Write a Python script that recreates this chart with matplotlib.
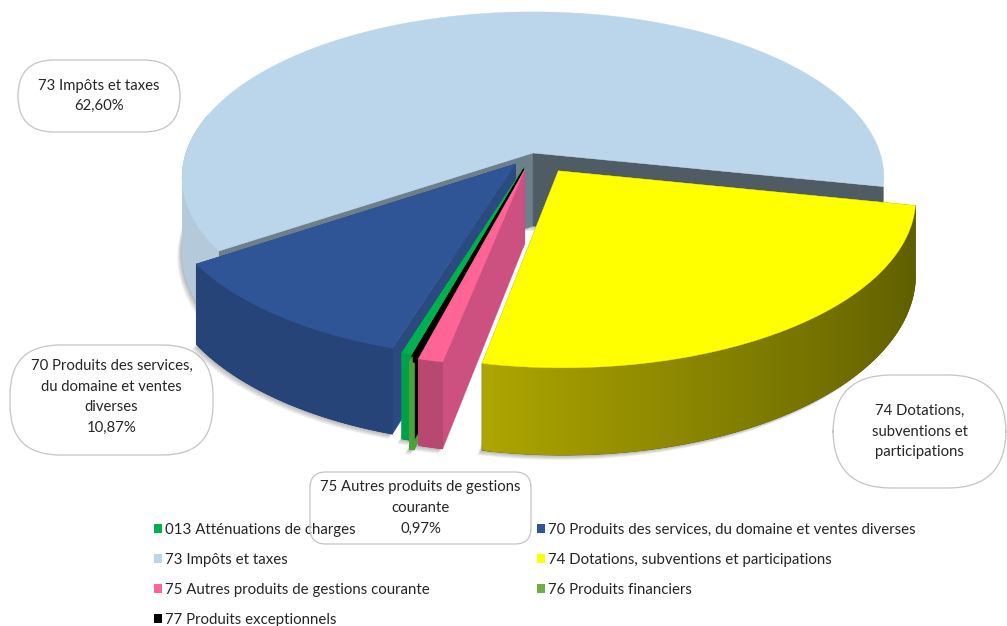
import numpy as np
import matplotlib
matplotlib.use("Agg")
import matplotlib.pyplot as plt
from matplotlib.colors import to_rgb
from matplotlib.patches import FancyBboxPatch, Patch, Polygon

plt.rcParams['font.family'] = ['Lato', 'DejaVu Sans']

# Data
categories = ["013 Atténuations de charges",
              "70 Produits des services, du domaine et ventes diverses",
              "73 Impôts et taxes",
              "74 Dotations, subventions et participations",
              "75 Autres produits de gestions courante",
              "76 Produits financiers",
              "77 Produits exceptionnels"]
values = [0.42, 10.87, 62.60, 24.90, 0.97, 0.20, 0.04]

# Slice styles, same order as categories
top_colors = ["#00B050", "#2F5597", "#BBD5EA", "#FFFF00", "#FF6497", "#70AD47", "#000000"]
rim_start = ["#00A04A", "#264478", "#B4C9DA", "#5E5E00", "#B8486F", "#4F9F3A", "#4F9F3A"]
rim_end = ["#00A04A", "#264478", "#AFC4D6", "#ADA500", "#B8486F", "#4F9F3A", "#4F9F3A"]
wall_first = ["#00A04A", "#2A4A80", "#6E7F8C", "#8A8500", "#CC5080", "#4F9F3A", "#000000"]
wall_last = ["#00A04A", "#2A4A80", "#505C64", "#8A8500", "#CC5080", "#4F9F3A", "#000000"]
explode = [0.09, 0.083, 0.0, 0.13, 0.105, 0.125, 0.10]
draw_order = [2, 1, 0, 5, 6, 4, 3]

# Projection of the tilted pie
first_angle = -105.6
CX, CY = 533, 153
RX, RY = 347, 162
DEPTH = 73
PERSP = 0.148


def proj(x, y, z=0.0):
    p = 1 / (1 + PERSP * y)
    return CX + RX * x * p, CY - RY * y * p + DEPTH * z * p


def mix(c1, c2, t):
    a, b = np.array(to_rgb(c1)), np.array(to_rgb(c2))
    return tuple(a + (b - a) * t ** 1.5)


fig = plt.figure(figsize=(10.07, 6.26), dpi=100)
ax = fig.add_axes([0, 0, 1, 1])
ax.set_xlim(0, 1007)
ax.set_ylim(626, 0)
ax.axis('off')


def bubble(x0, y0, x1, y1, lines, rounding, fill='white', zorder=1, text_dy=0):
    ax.add_patch(FancyBboxPatch((x0, y0), x1 - x0, y1 - y0,
                                boxstyle=f"round,pad=0,rounding_size={rounding}",
                                fc=fill, ec="#C4C4C4", lw=0.9, zorder=zorder))
    mid = (y0 + y1) / 2 + text_dy
    for j, line in enumerate(lines):
        ax.text((x0 + x1) / 2, mid + (j - (len(lines) - 1) / 2) * 20.5, line,
                ha='center', va='center', fontsize=10.7, color="#262626", zorder=zorder + 1)


# Callouts behind the pie
bubble(18, 60, 180, 132, ["73 Impôts et taxes", "62,60%"], 36)
bubble(10, 345, 213, 455, ["70 Produits des services,", "du domaine et ventes", "diverses", "10,87%"], 50, text_dy=-3)
bubble(833, 375, 1006, 488, ["74 Dotations,", "subventions et", "participations"], 58)

# Slice angles, clockwise from the first slice
shares = np.array(values) / sum(values) * 360
ends = first_angle - np.cumsum(shares)
starts = ends + shares


def outline(i, n=160):
    mid = np.radians((starts[i] + ends[i]) / 2)
    ox, oy = explode[i] * np.cos(mid), explode[i] * np.sin(mid)
    th = np.radians(np.linspace(starts[i], ends[i], n))
    return ox, oy, th


def rim_visible(i, t):
    # the main slice only shows its rim on the left, the right end is a cut face
    if i == 2 and np.cos(t) > 0:
        return False
    return np.sin(t) < 0.25


# Soft shadow on the floor
for step in range(7):
    for i in range(len(values)):
        ox, oy, th = outline(i)
        pts = [proj(ox, oy, 1)] + [proj(ox + np.cos(t), oy + np.sin(t), 1) for t in th]
        pts = [(px - 0.8 * step, py + 0.8 * step) for px, py in pts]
        ax.add_patch(Polygon(pts, fc="#404040", ec='none', alpha=0.07, zorder=2))

# Slices, painted from back to front
z = 3
for i in draw_order:
    ox, oy, th = outline(i)

    # Cut faces
    for ang, col in ((th[0], wall_first[i]), (th[-1], wall_last[i])):
        ex, ey = ox + np.cos(ang), oy + np.sin(ang)
        wall = [proj(ox, oy), proj(ex, ey), proj(ex, ey, 1), proj(ox, oy, 1)]
        ax.add_patch(Polygon(wall, fc=col, ec=col, lw=0.3, zorder=z))

    # Outer rim, a base shape and then steps for the shading
    rim_z = z + 2.5 if i == 5 else z  # 76 shows in front of its neighbours
    front = [t for t in th if rim_visible(i, t)]
    base = [proj(ox + np.cos(t), oy + np.sin(t)) for t in front]
    base += [proj(ox + np.cos(t), oy + np.sin(t), 1) for t in front[::-1]]
    ax.add_patch(Polygon(base, fc=rim_start[i], ec=rim_start[i], lw=0.5, zorder=rim_z))
    for k in range(len(th) - 2):
        a, b = th[k], th[k + 2]
        if not (rim_visible(i, a) and rim_visible(i, b)):
            continue
        xa, ya = ox + np.cos(a), oy + np.sin(a)
        xb, yb = ox + np.cos(b), oy + np.sin(b)
        quad = [proj(xa, ya), proj(xb, yb), proj(xb, yb, 1), proj(xa, ya, 1)]
        col = mix(rim_start[i], rim_end[i], k / (len(th) - 3))
        ax.add_patch(Polygon(quad, fc=col, ec='none', zorder=rim_z))

    # Top face
    top = [proj(ox, oy)] + [proj(ox + np.cos(t), oy + np.sin(t)) for t in th]
    ax.add_patch(Polygon(top, fc=top_colors[i], ec=top_colors[i], lw=0.3, zorder=z))
    z += 1

# Legend, filled by column so that it reads row by row
handles = [Patch(fc=c, ec='none', label=l) for c, l in zip(top_colors, categories)]
by_rows = [handles[0], handles[2], handles[4], handles[6], handles[1], handles[3], handles[5]]
leg = ax.legend(handles=by_rows, ncol=2, frameon=False, loc='upper left',
                bbox_to_anchor=(154, 523), bbox_transform=ax.transData,
                fontsize=10.8, labelcolor="#262626", handlelength=0.55, handleheight=0.55,
                handletextpad=0.2, labelspacing=1.06, columnspacing=7.1, borderpad=0,
                borderaxespad=0)
leg.set_zorder(20)

# This callout sits over the legend
bubble(310, 472, 531, 544, ["75 Autres produits de gestions", "courante", "0,97%"], 16, fill='none', zorder=21)

fig.savefig("out.png", dpi=100)
